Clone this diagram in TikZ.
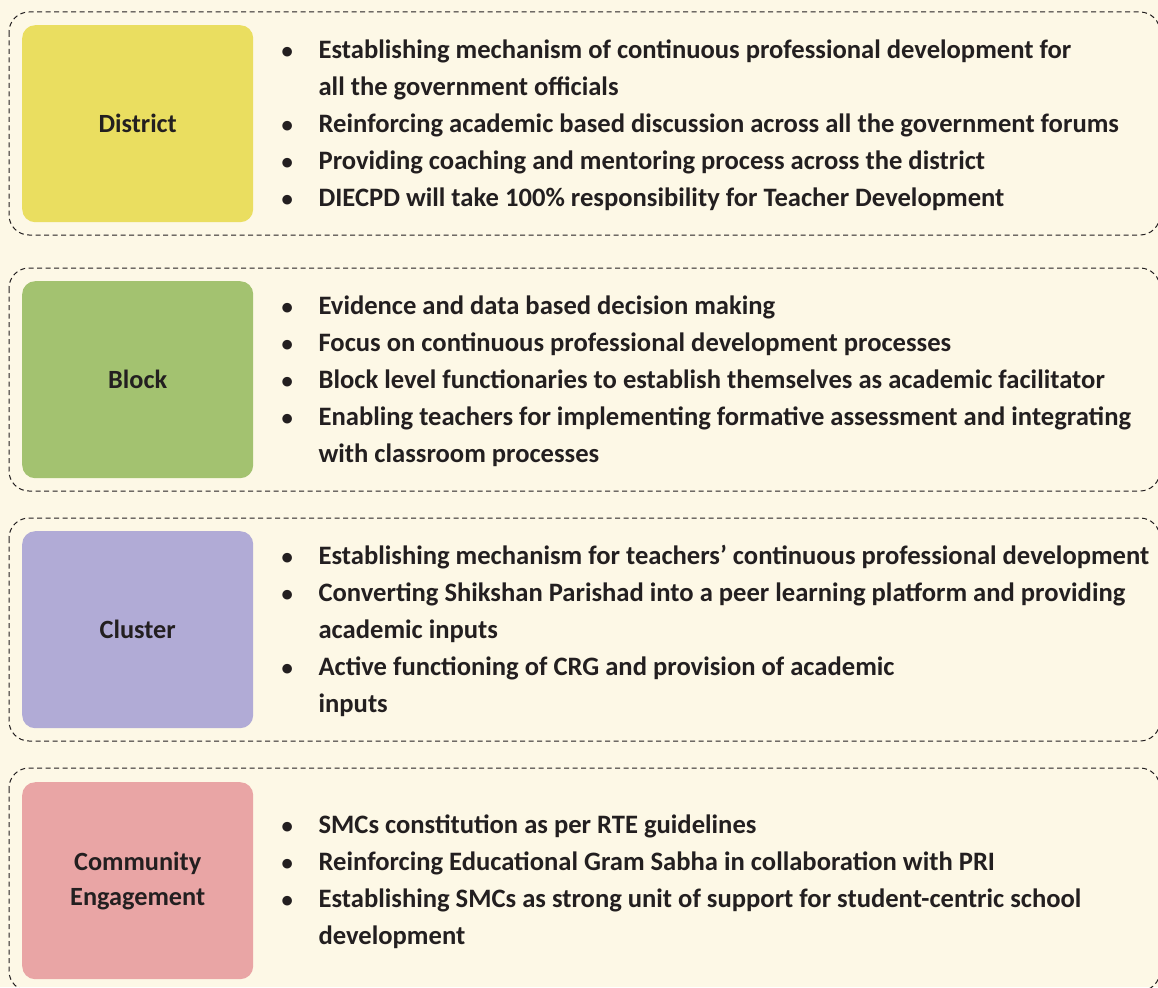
\documentclass[tikz,border=0pt]{standalone}
\usepackage{fontspec}
\setmainfont{Carlito}
\usetikzlibrary{positioning}
\definecolor{cream}{RGB}{253,248,230}
\definecolor{inkgray}{RGB}{35,31,32}
\definecolor{districtcol}{RGB}{234,222,96}
\definecolor{blockcol}{RGB}{163,194,112}
\definecolor{clustercol}{RGB}{177,171,214}
\definecolor{communitycol}{RGB}{233,165,165}
\tikzstyle{panel} = [draw=inkgray, line width=1pt, dash pattern=on 5pt off 3.5pt, rounded corners=20pt]
\tikzstyle{levelbox} = [rectangle, rounded corners=13pt, minimum width=231pt, minimum height=197pt,
                        align=center, inner sep=0pt, text=inkgray,
                        font=\fontsize{26.3}{35}\selectfont\bfseries]
\tikzstyle{pointlist} = [inner sep=0pt, text=inkgray, font=\fontsize{26.6}{37}\selectfont\bfseries]
\newcommand{\pnt}{\makebox[39pt][l]{\hspace{2pt}\scalebox{0.85}{\textbullet}}}

\begin{document}
\begin{tikzpicture}[x=1pt, y=-1pt]
    \useasboundingbox[fill=cream] (0,0) rectangle (1158,987);
    \clip (0,0) rectangle (1158,987);

    % Dashed panels
    \draw[panel] (9,12) rectangle (1160,235);
    \draw[panel] (9,268) rectangle (1160,491);
    \draw[panel] (9,518) rectangle (1160,741);
    \draw[panel] (9,768) rectangle (1160,991);

    % Row 1: District
    \node[levelbox, fill=districtcol, anchor=north west] (district) at (22,25) {District};
    \node[pointlist, right=26pt of district, yshift=-1pt] (districtpts) {%
        \begin{tabular}{@{}l@{}l@{}}
        \pnt & Establishing mechanism of continuous professional development for\\
             & all the government officials\\
        \pnt & Reinforcing academic based discussion across all the government forums\\
        \pnt & Providing coaching and mentoring process across the district\\
        \pnt & DIECPD will take 100\% responsibility for Teacher Development
        \end{tabular}};

    % Row 2: Block
    \node[levelbox, fill=blockcol, anchor=north west] (block) at (22,281) {Block};
    \node[pointlist, right=26pt of block, yshift=-1pt] (blockpts) {%
        \begin{tabular}{@{}l@{}l@{}}
        \pnt & Evidence and data based decision making\\
        \pnt & Focus on continuous professional development processes\\
        \pnt & Block level functionaries to establish themselves as academic facilitator\\
        \pnt & Enabling teachers for implementing formative assessment and integrating\\
             & with classroom processes
        \end{tabular}};

    % Row 3: Cluster
    \node[levelbox, fill=clustercol, anchor=north west] (cluster) at (22,531) {Cluster};
    \node[pointlist, right=26pt of cluster, yshift=-1pt] (clusterpts) {%
        \begin{tabular}{@{}l@{}l@{}}
        \pnt & Establishing mechanism for teachers’ continuous professional development\\
        \pnt & Converting Shikshan Parishad into a peer learning platform and providing\\
             & academic inputs\\
        \pnt & Active functioning of CRG and provision of academic\\
             & inputs
        \end{tabular}};

    % Row 4: Community Engagement
    \node[levelbox, fill=communitycol, anchor=north west] (community) at (22,782) {Community\\Engagement};
    \node[pointlist, right=26pt of community, yshift=-1pt] (communitypts) {%
        \begin{tabular}{@{}l@{}l@{}}
        \pnt & SMCs constitution as per RTE guidelines\\
        \pnt & Reinforcing Educational Gram Sabha in collaboration with PRI\\
        \pnt & Establishing SMCs as strong unit of support for student-centric school\\
             & development
        \end{tabular}};
\end{tikzpicture}
\end{document}
